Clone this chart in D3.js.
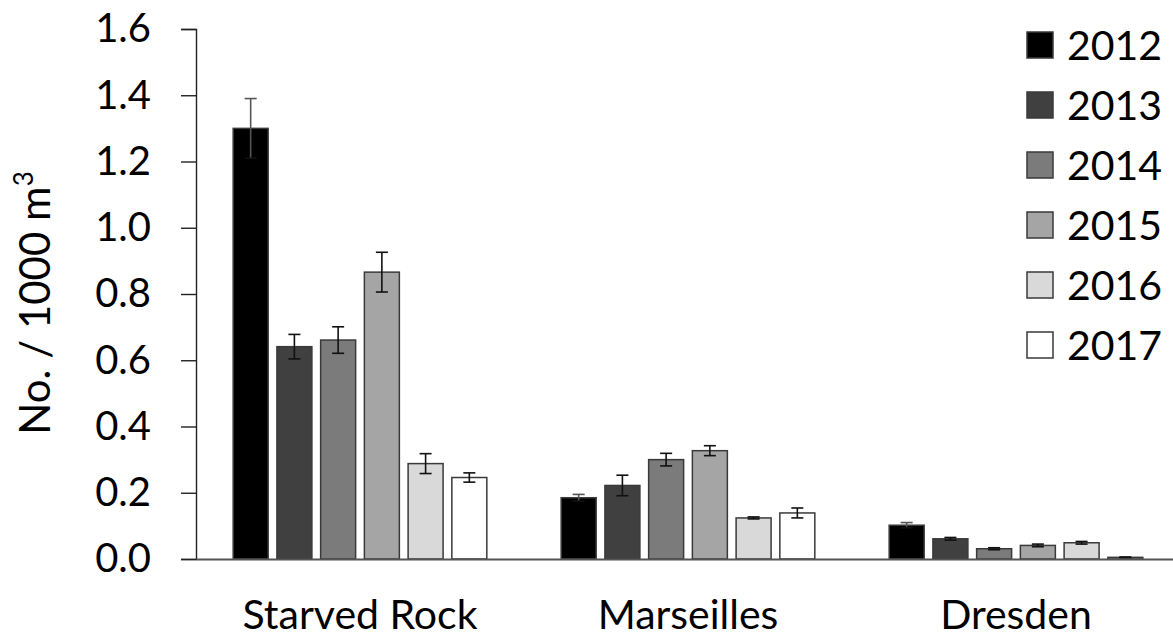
<!DOCTYPE html>
<html>
<head>
<meta charset="utf-8">
<script src="https://cdn.jsdelivr.net/npm/d3@7"></script>
<style>
  html, body { margin: 0; padding: 0; background: #fff; }
  svg { display: block; font-family: Lato, "Open Sans", sans-serif; }
</style>
</head>
<body>
<svg id="chart" width="1173" height="639"></svg>
<script>
// sites along the x axis, years as series
const sites = ["Starved Rock", "Marseilles", "Dresden"];
const years = ["2012", "2013", "2014", "2015", "2016", "2017"];
const fills = ["#000000", "#404040", "#7b7b7b", "#a5a5a5", "#d9d9d9", "#ffffff"];

// mean density per site, one array per year (order = sites)
const y2012 = [1.30, 0.185, 0.102];
const y2013 = [0.641, 0.222, 0.061];
const y2014 = [0.661, 0.300, 0.031];
const y2015 = [0.866, 0.327, 0.041];
const y2016 = [0.288, 0.124, 0.049];
const y2017 = [0.246, 0.139, 0.005];

// standard errors
const e2012 = [0.09, 0.010, 0.008];
const e2013 = [0.037, 0.031, 0.004];
const e2014 = [0.040, 0.019, 0.003];
const e2015 = [0.060, 0.015, 0.004];
const e2016 = [0.030, 0.003, 0.004];
const e2017 = [0.014, 0.015, 0.001];

const yTicks = [0, 0.2, 0.4, 0.6, 0.8, 1.0, 1.2, 1.4, 1.6];

const means = [y2012, y2013, y2014, y2015, y2016, y2017];
const errs = [e2012, e2013, e2014, e2015, e2016, e2017];

const rows = [];
sites.forEach((s, i) => years.forEach((yr, j) => {
  rows.push({ site: s, year: yr, v: means[j][i], e: errs[j][i], k: j });
}));

const svg = d3.select("#chart");
const M = { left: 196, right: -7, top: 29, bottom: 80 };
const W = 1173, H = 639;

const x = d3.scaleBand().domain(sites).range([M.left, W - M.right]);
const xi = d3.scaleBand().domain(years).range([0, x.bandwidth()]).paddingOuter(0.85).paddingInner(0.2);
const y = d3.scaleLinear().domain([0, 1.6]).range([H - M.bottom, M.top]);

// y axis
const ay = svg.append("g").attr("transform", `translate(${M.left},0)`)
  .call(d3.axisLeft(y).tickValues(yTicks).tickFormat(d3.format(".1f")).tickSize(15).tickPadding(30));
ay.select(".domain").attr("stroke", "#222").attr("stroke-width", 1.4);
ay.selectAll(".tick line").attr("stroke", "#222").attr("stroke-width", 1.4);
ay.selectAll("text").attr("font-family", "Lato, sans-serif").attr("font-size", 40).attr("fill", "#000");

// bars
const g = svg.append("g");
g.selectAll("rect.bar").data(rows).join("rect").attr("class", "bar")
  .attr("x", (d) => x(d.site) + xi(d.year))
  .attr("width", xi.bandwidth())
  .attr("y", (d) => y(d.v))
  .attr("height", (d) => y(0) - y(d.v))
  .attr("fill", (d) => fills[d.k])
  .attr("stroke", "#3a3a3a").attr("stroke-width", 1.5);

// error bars
const eb = g.selectAll("g.err").data(rows).join("g").attr("class", "err")
  .attr("transform", (d) => `translate(${x(d.site) + xi(d.year) + xi.bandwidth() / 2},0)`);
eb.append("line").attr("y1", (d) => y(d.v - d.e)).attr("y2", (d) => y(d.v + d.e))
  .attr("stroke", (d) => d.k === 0 ? "#555" : "#111").attr("stroke-width", 1.6);
eb.append("line").attr("x1", -6).attr("x2", 6).attr("y1", (d) => y(d.v + d.e)).attr("y2", (d) => y(d.v + d.e))
  .attr("stroke", (d) => d.k === 0 ? "#555" : "#111").attr("stroke-width", 1.6);
eb.append("line").attr("x1", -6).attr("x2", 6).attr("y1", (d) => y(d.v - d.e)).attr("y2", (d) => y(d.v - d.e))
  .attr("stroke", "#111").attr("stroke-width", 1.6);

// x baseline + category labels
const ax = svg.append("g").attr("transform", `translate(0,${y(0)})`)
  .call(d3.axisBottom(x).tickSize(0).tickPadding(41));
ax.select(".domain").attr("stroke", "#555").attr("stroke-width", 2);
ax.selectAll("text").attr("font-family", "Lato, sans-serif").attr("font-size", 41).attr("fill", "#000");

// y title
const yt = svg.append("text")
  .attr("transform", `translate(50,303) rotate(-90)`)
  .attr("text-anchor", "middle").attr("font-size", 42).attr("fill", "#000");
yt.append("tspan").text("No. / 1000 m");
yt.append("tspan").attr("font-size", 26).attr("dy", -17).text("3");

// legend
const lg = svg.append("g").attr("transform", "translate(1027,32)");
const li = lg.selectAll("g").data(years).join("g").attr("transform", (d, i) => `translate(0,${i * 60})`);
li.append("rect").attr("width", 26).attr("height", 26)
  .attr("fill", (d, i) => fills[i]).attr("stroke", "#3a3a3a").attr("stroke-width", 1.5);
li.append("text").attr("x", 40).attr("y", 13).attr("dy", "0.36em")
  .attr("font-size", 41).attr("fill", "#000").text((d) => d);
</script>
</body>
</html>
